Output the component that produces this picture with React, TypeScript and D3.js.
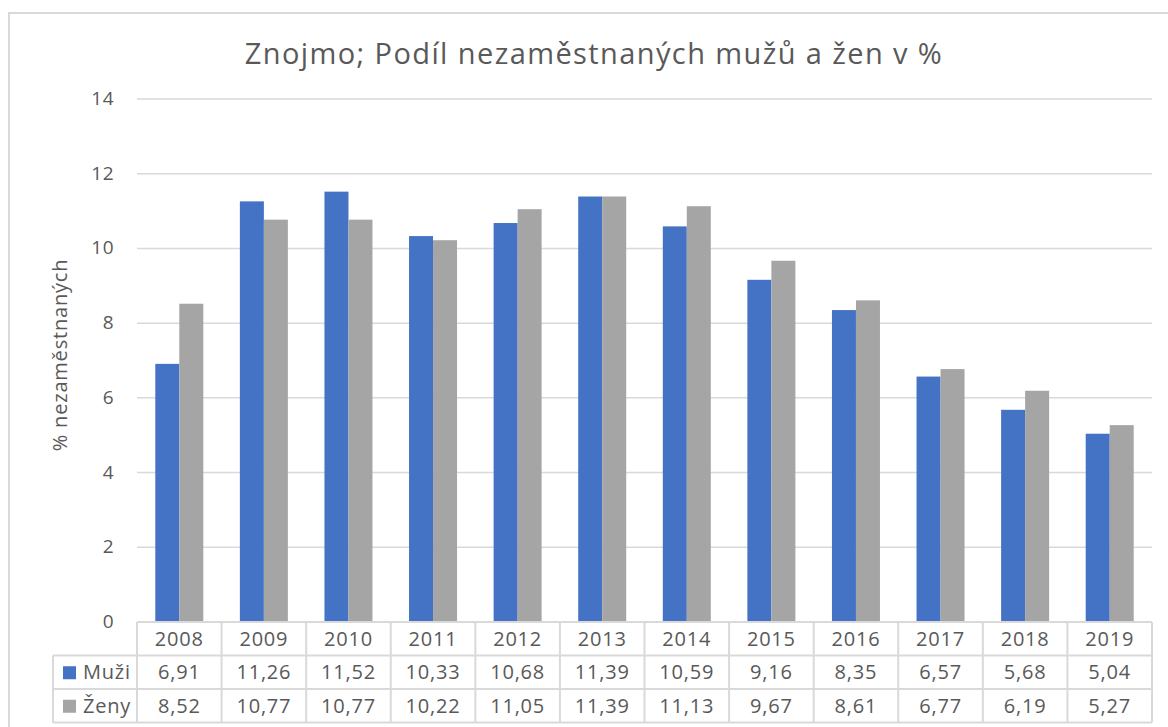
import React from "react";
import * as d3 from "d3";

const years = ["2008","2009","2010","2011","2012","2013","2014","2015","2016","2017","2018","2019"];
const muzi = [6.91, 11.26, 11.52, 10.33, 10.68, 11.39, 10.59, 9.16, 8.35, 6.57, 5.68, 5.04];
const zeny = [8.52, 10.77, 10.77, 10.22, 11.05, 11.39, 11.13, 9.67, 8.61, 6.77, 6.19, 5.27];
const yTicks = [0, 2, 4, 6, 8, 10, 12, 14];
const seriesNames = ["Muži", "Ženy"];
const colors = ["#4472C4", "#A5A5A5"];

const fmt = (v: number) => v.toFixed(2).replace(".", ",");

export default function App() {
  const left = 137, right = 1152, top = 99, bottom = 622;
  const x = d3.scaleBand<string>().domain(years).range([left, right]).paddingInner(0).paddingOuter(0);
  const y = d3.scaleLinear().domain([0, 14]).range([bottom, top]);
  const barW = 24;
  const rowH = 33.5;
  const tableLeft = 53;
  const font = "'Open Sans', sans-serif";
  const textColor = "#595959";
  const grid = "#D9D9D9";
  const series = [muzi, zeny];

  return (
    <svg width={1168} height={727} style={{ position: "absolute", left: 0, top: 0, background: "#fff" }}>
      <rect x={9} y={13} width={1170} height={730} fill="#fff" stroke={grid} strokeWidth={2} />
      <text x={594} y={64} textAnchor="middle" fontFamily={font} fontSize={29} fill={textColor} letterSpacing={1.4}>
        Znojmo; Podíl nezaměstnaných mužů a žen v %
      </text>
      {yTicks.map((t) => (
        <g key={t}>
          {t > 0 && <line x1={left} x2={right} y1={y(t)} y2={y(t)} stroke={grid} strokeWidth={1.5} />}
          <text x={114} y={y(t) + 6} textAnchor="end" fontFamily={font} fontSize={19} fill={textColor} letterSpacing={0.5}>{t}</text>
        </g>
      ))}
      <text transform={`translate(67,${355}) rotate(-90)`} textAnchor="middle" fontFamily={font} fontSize={20} fill={textColor} letterSpacing={0.8}>
        % nezaměstnaných
      </text>
      {years.map((yr, i) => {
        const cx = (x(yr) as number) + x.bandwidth() / 2;
        return series.map((s, j) => (
          <rect key={yr + j} x={cx - barW + j * barW} y={y(s[i])} width={barW} height={bottom - y(s[i])} fill={colors[j]} />
        ));
      })}
      {/* table */}
      <line x1={left} x2={right} y1={bottom} y2={bottom} stroke={grid} strokeWidth={2} />
      {[1, 2, 3].map((r) => (
        <line key={r} x1={tableLeft} x2={right} y1={bottom + r * rowH} y2={bottom + r * rowH} stroke={grid} strokeWidth={2} />
      ))}
      <line x1={tableLeft} x2={tableLeft} y1={bottom + rowH} y2={bottom + 3 * rowH} stroke={grid} strokeWidth={2} />
      {years.map((yr) => (
        <line key={"v" + yr} x1={x(yr) as number} x2={x(yr) as number} y1={bottom} y2={bottom + 3 * rowH} stroke={grid} strokeWidth={2} />
      ))}
      <line x1={right} x2={right} y1={bottom} y2={bottom + 3 * rowH} stroke={grid} strokeWidth={2} />
      {years.map((yr) => (
        <text key={"h" + yr} x={(x(yr) as number) + x.bandwidth() / 2} y={bottom + rowH / 2 + 7} textAnchor="middle" fontFamily={font} fontSize={20} fill={textColor} letterSpacing={0.8}>{yr}</text>
      ))}
      {series.map((s, j) => (
        <g key={"row" + j}>
          <rect x={63} y={bottom + (j + 1) * rowH + rowH / 2 - 6} width={13} height={13} fill={colors[j]} />
          <text x={83} y={bottom + (j + 1) * rowH + rowH / 2 + 7} fontFamily={font} fontSize={20} fill={textColor} letterSpacing={0.8}>{seriesNames[j]}</text>
          {years.map((yr, i) => (
            <text key={yr} x={(x(yr) as number) + x.bandwidth() / 2} y={bottom + (j + 1) * rowH + rowH / 2 + 7} textAnchor="middle" fontFamily={font} fontSize={20} fill={textColor} letterSpacing={0.8}>{fmt(s[i])}</text>
          ))}
        </g>
      ))}
    </svg>
  );
}
